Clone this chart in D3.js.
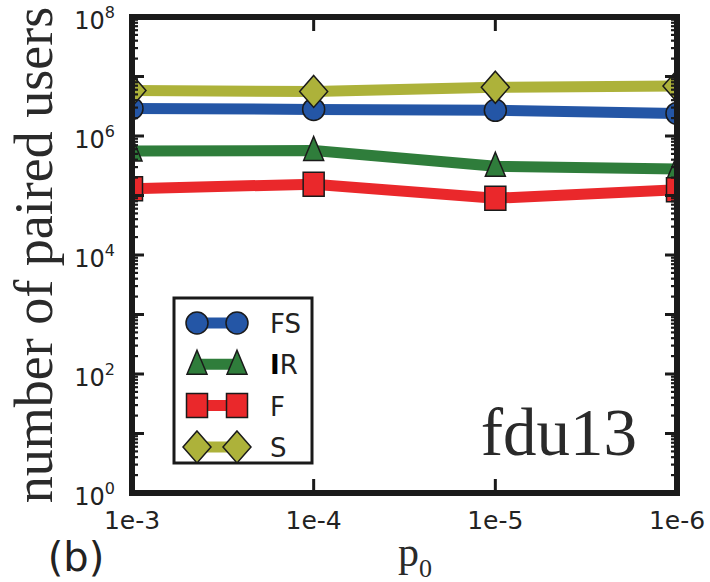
<!DOCTYPE html>
<html>
<head>
<meta charset="utf-8">
<script src="https://cdn.jsdelivr.net/npm/d3@7"></script>
<style>
  body { margin: 0; background: #fff; }
  svg { display: block; }
</style>
</head>
<body>
<svg id="chart"></svg>
<script>
(function () {
  'use strict';

  // categories on the x axis (p0)
  var categories = ['1e-3', '1e-4', '1e-5', '1e-6'];

  // series values, number of paired users
  var fsValues = [2.9e6, 2.8e6, 2.7e6, 2.4e6];
  var irValues = [5.6e5, 5.7e5, 3.1e5, 2.8e5];
  var fValues  = [1.3e5, 1.55e5, 9.0e4, 1.25e5];
  var sValues  = [5.8e6, 5.6e6, 6.6e6, 6.9e6];

  var seriesNames = ['FS', 'IR', 'F', 'S'];
  var yTickExponents = [0, 2, 4, 6, 8];

  var series = [
    { name: 'FS', values: fsValues, color: '#2456a6', shape: 'circle' },
    { name: 'IR', values: irValues, color: '#2f7d3b', shape: 'triangle' },
    { name: 'F',  values: fValues,  color: '#ea282b', shape: 'square' },
    { name: 'S',  values: sValues,  color: '#adb23a', shape: 'diamond' }
  ];

  var W = 710, H = 582;
  var x0 = 132, x1 = 677, y0 = 17, y1 = 493;
  var ink = '#1a1a1a';

  var svg = d3.select('#chart')
      .attr('width', W)
      .attr('height', H);

  var x = d3.scalePoint()
      .domain(categories)
      .range([x0, x1])
      .padding(0);

  var y = d3.scaleLog()
      .domain([1, 1e8])
      .range([y1, y0]);

  // marker shapes as path strings around 0,0
  function markerPath (shape) {
    if (shape === 'circle') {
      return d3.symbol().type(d3.symbolCircle).size(Math.PI * 11 * 11)();
    }
    if (shape === 'triangle') return 'M0,-14L10,10L-10,10Z';
    if (shape === 'square') return 'M-10.5,-12L10.5,-12L10.5,12L-10.5,12Z';
    return 'M0,-16L14,0L0,16L-14,0Z';
  }

  svg.append('defs').append('clipPath')
      .attr('id', 'plotclip')
    .append('rect')
      .attr('x', x0)
      .attr('y', y0)
      .attr('width', x1 - x0)
      .attr('height', y1 - y0);

  var plot = svg.append('g').attr('clip-path', 'url(#plotclip)');

  var line = d3.line()
      .x(function (d, i) { return x(categories[i]); })
      .y(function (d) { return y(d); });

  series.forEach(function (s) {
    var g = plot.append('g');
    g.append('path')
        .attr('d', line(s.values))
        .attr('fill', 'none')
        .attr('stroke', s.color)
        .attr('stroke-width', 11)
        .attr('stroke-linejoin', 'round');
    g.selectAll('path.mk')
        .data(s.values)
        .enter()
        .append('path')
        .attr('class', 'mk')
        .attr('d', markerPath(s.shape))
        .attr('transform', function (d, i) {
          return 'translate(' + x(categories[i]) + ',' + y(d) + ')';
        })
        .attr('fill', s.color)
        .attr('stroke', ink)
        .attr('stroke-width', 1.5);
  });

  // y ticks (log, major + minor) on both sides
  var ticks = svg.append('g').attr('stroke', ink);
  for (var e = 0; e < 8; e++) {
    for (var m = 1; m < 10; m++) {
      var v = m * Math.pow(10, e);
      var len = m === 1 ? 12 : 6;
      var wid = m === 1 ? 3 : 2.2;
      ticks.append('line')
          .attr('x1', x0).attr('x2', x0 + len)
          .attr('y1', y(v)).attr('y2', y(v))
          .attr('stroke-width', wid);
      ticks.append('line')
          .attr('x1', x1).attr('x2', x1 - len)
          .attr('y1', y(v)).attr('y2', y(v))
          .attr('stroke-width', wid);
    }
  }

  // x ticks top and bottom
  categories.forEach(function (c) {
    ticks.append('line')
        .attr('x1', x(c)).attr('x2', x(c))
        .attr('y1', y1).attr('y2', y1 - 14)
        .attr('stroke-width', 3);
    ticks.append('line')
        .attr('x1', x(c)).attr('x2', x(c))
        .attr('y1', y0).attr('y2', y0 + 14)
        .attr('stroke-width', 3);
  });

  // frame
  svg.append('rect')
      .attr('x', x0)
      .attr('y', y0)
      .attr('width', x1 - x0)
      .attr('height', y1 - y0)
      .attr('fill', 'none')
      .attr('stroke', ink)
      .attr('stroke-width', 6);

  // y tick labels 10^n
  var yLabels = svg.selectAll('text.ylab')
      .data(yTickExponents)
      .enter()
      .append('text')
      .attr('class', 'ylab')
      .attr('x', 115)
      .attr('y', function (d) { return y(Math.pow(10, d)) + 12; })
      .attr('text-anchor', 'end')
      .style('font-family', 'DejaVu Sans')
      .style('font-size', '24px')
      .attr('fill', '#222');
  yLabels.append('tspan').text('10');
  yLabels.append('tspan')
      .attr('dy', -11)
      .style('font-size', '16px')
      .text(function (d) { return d; });

  // x tick labels
  svg.selectAll('text.xlab')
      .data(categories)
      .enter()
      .append('text')
      .attr('class', 'xlab')
      .attr('x', function (d) { return x(d); })
      .attr('y', 529)
      .attr('text-anchor', 'middle')
      .style('font-family', 'DejaVu Sans')
      .style('font-size', '25px')
      .attr('fill', '#222')
      .text(function (d) { return d; });

  // axis titles
  svg.append('text')
      .attr('transform', 'translate(52,255) rotate(-90)')
      .attr('text-anchor', 'middle')
      .style('font-family', 'Liberation Serif')
      .style('font-size', '54px')
      .attr('fill', '#2a2a2a')
      .text('number of paired users');

  var p0 = svg.append('text')
      .attr('x', 398)
      .attr('y', 566)
      .style('font-family', 'Liberation Serif')
      .style('font-size', '42px')
      .attr('fill', '#2a2a2a');
  p0.append('tspan').text('p');
  p0.append('tspan')
      .attr('dy', 11)
      .style('font-size', '26px')
      .text('0');

  svg.append('text')
      .attr('x', 76)
      .attr('y', 571)
      .attr('text-anchor', 'middle')
      .style('font-family', 'DejaVu Sans')
      .style('font-size', '40px')
      .attr('fill', '#222')
      .text('(b)');

  svg.append('text')
      .attr('x', 637)
      .attr('y', 455)
      .attr('text-anchor', 'end')
      .style('font-family', 'Liberation Serif')
      .style('font-size', '67px')
      .attr('fill', '#2a2a2a')
      .text('fdu13');

  // legend
  var legend = svg.append('g');
  legend.append('rect')
      .attr('x', 174)
      .attr('y', 298)
      .attr('width', 138)
      .attr('height', 165)
      .attr('fill', '#fff')
      .attr('stroke', ink)
      .attr('stroke-width', 3);

  var rows = legend.selectAll('g.row')
      .data(seriesNames)
      .enter()
      .append('g')
      .attr('class', 'row')
      .attr('transform', function (d, i) {
        return 'translate(0,' + (323 + i * 41.3) + ')';
      });

  rows.each(function (name) {
    var s = series.filter(function (d) { return d.name === name; })[0];
    var r = d3.select(this);
    r.append('line')
        .attr('x1', 197).attr('x2', 237)
        .attr('y1', 0).attr('y2', 0)
        .attr('stroke', s.color)
        .attr('stroke-width', 11);
    [197, 237].forEach(function (cx) {
      r.append('path')
          .attr('d', markerPath(s.shape))
          .attr('transform', 'translate(' + cx + ',0)')
          .attr('fill', s.color)
          .attr('stroke', ink)
          .attr('stroke-width', 1.5);
    });
    var t = r.append('text')
        .attr('x', 270)
        .attr('y', 10)
        .style('font-family', 'DejaVu Sans')
        .style('font-size', '26px')
        .attr('fill', '#222');
    if (name === 'IR') {
      // the I in the picture is drawn heavy and black
      t.append('tspan')
          .style('font-weight', 'bold')
          .attr('fill', '#000')
          .text('I');
      t.append('tspan').text('R');
    } else {
      t.text(name);
    }
  });
} ());
</script>
</body>
</html>
